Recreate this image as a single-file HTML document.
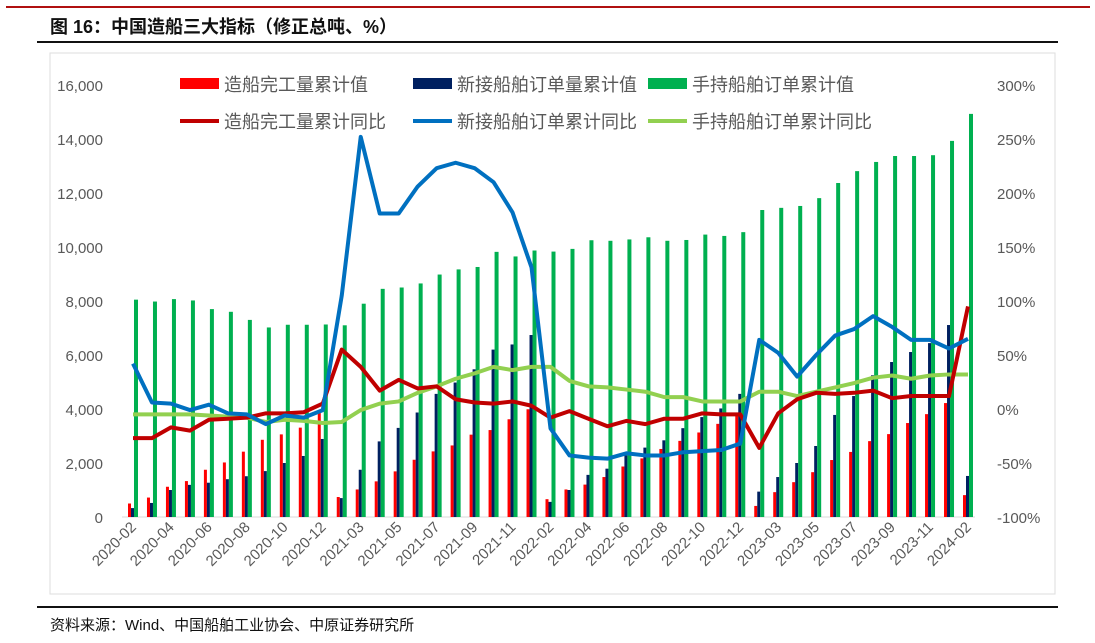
<!DOCTYPE html>
<html><head><meta charset="utf-8">
<style>
body{margin:0;background:#fff;width:1095px;height:638px;overflow:hidden;font-family:"Liberation Sans","Noto Sans CJK SC",sans-serif;}
svg text{font-family:"Liberation Sans","Noto Sans CJK SC",sans-serif;}
</style></head>
<body>
<svg id="chart" width="1095" height="638" xmlns="http://www.w3.org/2000/svg">
<line x1="6" y1="7" x2="1090" y2="7" stroke="#b01010" stroke-width="2"/>
<text x="50" y="33" font-size="18" font-weight="bold" fill="#111">图 16：中国造船三大指标（修正总吨、%）</text>
<line x1="37" y1="42" x2="1058" y2="42" stroke="#111" stroke-width="2"/>
<rect x="50" y="53" width="1005" height="541" fill="none" stroke="#ddd" stroke-width="1"/>
<line x1="37" y1="607" x2="1058" y2="607" stroke="#111" stroke-width="2"/>
<text x="50" y="630" font-size="15" fill="#111">资料来源：Wind、中国船舶工业协会、中原证券研究所</text>
<g id="plot"></g>
</svg>
<script>
const categories=["2020-02","2020-03","2020-04","2020-05","2020-06","2020-07","2020-08","2020-09","2020-10","2020-11","2020-12",
"2021-02","2021-03","2021-04","2021-05","2021-06","2021-07","2021-08","2021-09","2021-10","2021-11","2021-12",
"2022-02","2022-03","2022-04","2022-05","2022-06","2022-07","2022-08","2022-09","2022-10","2022-11","2022-12",
"2023-02","2023-03","2023-04","2023-05","2023-06","2023-07","2023-08","2023-09","2023-10","2023-11","2023-12","2024-02"];
const completed=[500,720,1120,1330,1750,2020,2420,2860,3060,3310,3850,740,1020,1320,1690,2120,2430,2650,3050,3220,3620,3990,660,1020,1200,1480,1870,2170,2520,2820,3130,3450,3790,410,920,1290,1660,2110,2410,2810,3070,3480,3810,4220,810];
const newOrders=[330,520,1000,1190,1270,1400,1510,1700,2000,2260,2890,700,1750,2800,3300,3870,4560,4980,5470,6200,6390,6740,560,1000,1560,1790,2280,2570,2840,3290,3700,4020,4560,940,1480,2000,2630,3780,4480,5250,5740,6110,6440,7110,1520];
const orderbook=[8050,7980,8070,8020,7700,7600,7300,7020,7120,7120,7130,7100,7900,8450,8500,8650,8980,9170,9260,9820,9650,9870,9830,9930,10250,10230,10280,10360,10230,10260,10460,10410,10550,11370,11450,11520,11810,12370,12810,13150,13370,13370,13400,13930,14930];
const completedYoy=[-27,-27,-17,-20,-10,-9,-8,-4,-4,-3,5,55,39,17,27,19,21,9,6,5,7,3,-8,-2,-9,-16,-11,-14,-9,-9,-4,-5,-5,-36,-4,9,15,14,15,17,10,12,12,12,95];
const newOrdersYoy=[42,6,5,-1,4,-4,-5,-14,-6,-8,-1,105,252,181,181,206,223,228,223,210,182,131,-18,-43,-45,-46,-41,-43,-43,-40,-39,-38,-32,64,52,30,50,68,74,86,76,64,64,56,65];
const orderbookYoy=[-5,-5,-5,-5,-6,-7,-8,-12,-10,-11,-13,-12,-1,5,7,15,21,28,33,39,36,39,39,26,21,20,18,16,11,11,7,7,7,16,16,12,16,20,24,29,31,28,31,32,32];
const leftTicks=[0,2000,4000,6000,8000,10000,12000,14000,16000];
const rightTicks=[-100,-50,0,50,100,150,200,250,300];

const NS="http://www.w3.org/2000/svg";
const g=document.getElementById('plot');
const X0=133,DX=(968-133)/44;
const xS=i=>X0+i*DX;
const yL=v=>517-v*432/16000;
const yR=v=>517-(v+100)*432/400;
function mk(tag,attrs,parent){const e=document.createElementNS(NS,tag);for(const k in attrs)e.setAttribute(k,attrs[k]);(parent||g).appendChild(e);return e;}

leftTicks.forEach(t=>{const e=mk('text',{x:103,y:yL(t)+6,'font-size':15,fill:'#595959','text-anchor':'end'});


e.textContent=t.toLocaleString('en-US');});
rightTicks.forEach(t=>{const e=mk('text',{x:997,y:yR(t)+6,'font-size':15,fill:'#595959'});


e.textContent=t+'%';});
const ax=mk('line',{x1:122,y1:517,x2:975,y2:517,stroke:'#d9d9d9','stroke-width':1});



categories.forEach((c,i)=>{
  const x=xS(i);
  const r=mk('rect',{x:x-5,y:yL(completed[i]),width:3,height:517-yL(completed[i]),fill:'#ff0000'});
  
  
  const n=mk('rect',{x:x-2,y:yL(newOrders[i]),width:3,height:517-yL(newOrders[i]),fill:'#002060'});
  
  
  const o=mk('rect',{x:x+1,y:yL(orderbook[i]),width:4,height:517-yL(orderbook[i]),fill:'#00b050'});
  
  
  if(i%2===0){
    const t=mk('text',{x:x+4,y:528,'font-size':15,fill:'#595959','text-anchor':'end',transform:`rotate(-45 ${x+4} 528)`});
    
    
    t.textContent=c;
  }
});
function line(arr,color,name){
  const p=mk('polyline',{points:arr.map((v,i)=>xS(i)+','+yR(v)).join(' '),fill:'none',stroke:color,'stroke-width':4,'stroke-linejoin':'round'});
  
  
}
line(orderbookYoy,'#92d050','line-orderbook-yoy');
line(completedYoy,'#c00000','line-completed-yoy');
line(newOrdersYoy,'#0070c0','line-new-orders-yoy');

const legend=[["造船完工量累计值",'#ff0000',180,84,'rect'],["新接船舶订单量累计值",'#002060',413,84,'rect'],["手持船舶订单累计值",'#00b050',648,84,'rect'],
["造船完工量累计同比",'#c00000',180,121,'line'],["新接船舶订单累计同比",'#0070c0',413,121,'line'],["手持船舶订单累计同比",'#92d050',648,121,'line']];
legend.forEach(l=>{
  const grp=mk('g',{});
  
  
  if(l[4]==='rect') mk('rect',{x:l[2],y:l[3]-6,width:39,height:11,fill:l[1]},grp);
  else mk('line',{x1:l[2],y1:l[3],x2:l[2]+39,y2:l[3],stroke:l[1],'stroke-width':4},grp);
  const t=mk('text',{x:l[2]+44,y:l[3]+7,'font-size':18,fill:'#595959'},grp);
  t.textContent=l[0];
});
</script>
</body></html>
